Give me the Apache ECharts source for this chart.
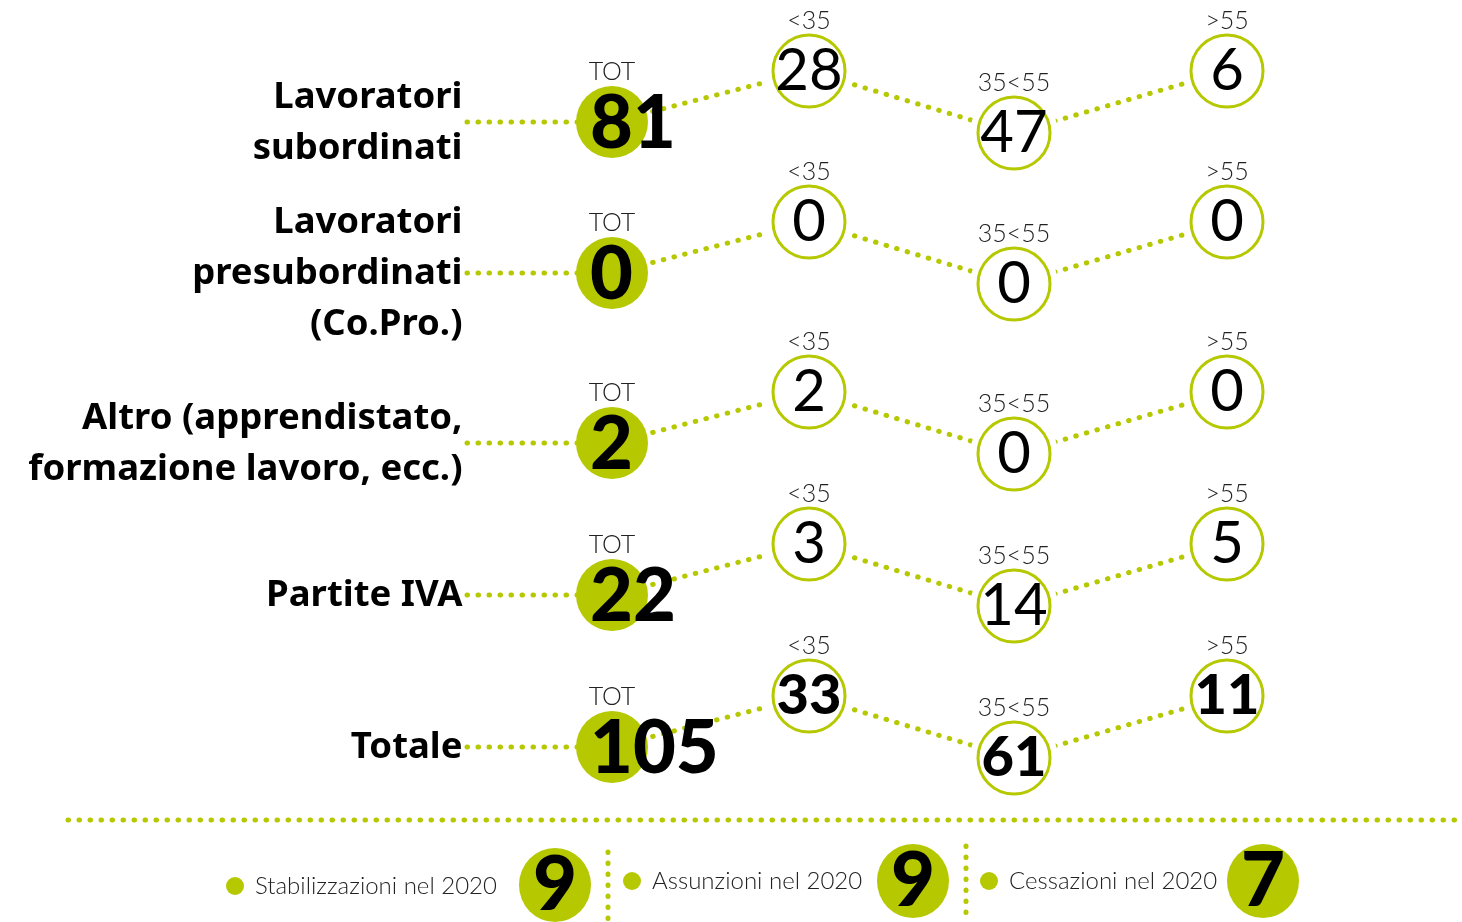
<!DOCTYPE html>
<html>
<head>
<meta charset="utf-8">
<script src="https://cdn.jsdelivr.net/npm/echarts@6/dist/echarts.min.js"></script>
<style>
  html, body { margin: 0; padding: 0; background: #fff; }
  #chart { width: 1462px; height: 922px; }
</style>
</head>
<body>
<div id="chart"></div>
<script>
  // dati
  const rowNames = ['Lavoratori\nsubordinati', 'Lavoratori\npresubordinati\n(Co.Pro.)', 'Altro (apprendistato,\nformazione lavoro, ecc.)', 'Partite IVA', 'Totale']
  const groups = ['TOT', '<35', '35<55', '>55']
  const totValues = [81, 0, 2, 22, 105]
  const under35 = [28, 0, 2, 3, 33]
  const from35to55 = [47, 0, 0, 14, 61]
  const over55 = [6, 0, 0, 5, 11]
  const summaryNames = ['Stabilizzazioni nel 2020', 'Assunzioni nel 2020', 'Cessazioni nel 2020']
  const summaryValues = [9, 9, 7]

  // layout
  const GREEN = '#b5c800'
  const rowY = [122, 273, 443, 595, 747]
  const colX = [612, 809, 1014, 1227]
  const colDy = [0, -51, 11, -51]
  const labelX = 463
  const boldRow = 4
  const summaryDot = [[235, 886], [632, 881], [989, 881]]
  const summaryBig = [[555, 885], [913, 881], [1263, 881]]

  const ageValues = [under35, from35to55, over55]
  const pos = (r, c) => [colX[c], rowY[r] + colDy[c]]
  const dotted = { color: GREEN, width: 5, type: [0.5, 10.5], cap: 'round', opacity: 1 }

  const series = []

  rowNames.forEach((name, r) => {
    series.push({
      type: 'line', z: 1, symbol: 'none', silent: true,
      lineStyle: dotted,
      data: [[labelX + 4, rowY[r]], pos(r, 0), pos(r, 1), pos(r, 2), pos(r, 3)]
    })
  })

  // linee di separazione in basso
  series.push({ type: 'line', z: 1, symbol: 'none', silent: true, lineStyle: dotted, data: [[68, 820], [1462, 820]] })
  series.push({ type: 'line', z: 1, symbol: 'none', silent: true, lineStyle: dotted, data: [[608, 852], [608, 920]] })
  series.push({ type: 'line', z: 1, symbol: 'none', silent: true, lineStyle: dotted, data: [[966, 846], [966, 918]] })

  const agePoints = []
  const tagPoints = []
  rowNames.forEach((name, r) => {
    tagPoints.push({ name: groups[0], value: pos(r, 0) })
    ageValues.forEach((arr, i) => {
      agePoints.push({
        value: pos(r, i + 1).concat(arr[r]),
        label: r === boldRow ? { fontWeight: 900, fontSize: 56 } : {}
      })
      tagPoints.push({ name: groups[i + 1], value: pos(r, i + 1) })
    })
  })

  // alone bianco per staccare le linee dai cerchi
  series.push({
    type: 'scatter', z: 2, silent: true, symbolSize: 88,
    itemStyle: { color: '#fff', opacity: 1 },
    data: agePoints.map(d => d.value.slice(0, 2))
  })

  series.push({
    type: 'scatter', z: 3, silent: true, symbolSize: 72,
    itemStyle: { color: '#fff', borderColor: GREEN, borderWidth: 3, opacity: 1 },
    label: {
      show: true, position: 'inside', formatter: p => p.value[2],
      fontFamily: 'Lato', fontWeight: 400, fontSize: 58, color: '#000', opacity: 1
    },
    data: agePoints
  })

  series.push({
    type: 'scatter', z: 3, silent: true, symbolSize: 72,
    itemStyle: { color: GREEN, opacity: 1 },
    label: {
      show: true, position: [14, 38], align: 'left', verticalAlign: 'middle',
      formatter: p => p.value[2],
      fontFamily: 'Lato', fontWeight: 900, fontSize: 74, color: '#000', opacity: 1
    },
    data: rowNames.map((n, r) => pos(r, 0).concat(totValues[r]))
  })

  series.push({
    type: 'scatter', z: 4, silent: true, symbolSize: 72,
    itemStyle: { color: 'transparent' },
    label: {
      show: true, position: 'top', distance: 2, formatter: '{b}',
      fontFamily: 'Lato', fontWeight: 300, fontSize: 25, color: '#222', opacity: 1
    },
    data: tagPoints
  })

  series.push({
    type: 'scatter', z: 4, silent: true, symbolSize: 1,
    itemStyle: { color: 'transparent' },
    label: {
      show: true, position: 'left', distance: 0, align: 'right', formatter: '{b}',
      fontFamily: 'Noto Sans', fontWeight: 'bold', fontSize: 36.5, lineHeight: 51, color: '#000', opacity: 1
    },
    data: rowNames.map((n, r) => ({ name: n, value: [labelX, rowY[r] + 1] }))
  })

  series.push({
    type: 'scatter', z: 3, silent: true, symbolSize: 18,
    itemStyle: { color: GREEN, opacity: 1 },
    label: {
      show: true, position: 'right', distance: 11, formatter: '{b}',
      fontFamily: 'Lato', fontWeight: 300, fontSize: 24, color: '#222', opacity: 1
    },
    data: summaryNames.map((n, i) => ({ name: n, value: summaryDot[i] }))
  })

  series.push({
    type: 'scatter', z: 3, silent: true, symbolSize: [72, 74],
    itemStyle: { color: GREEN, opacity: 1 },
    label: {
      show: true, position: 'inside', formatter: p => p.value[2],
      fontFamily: 'Lato', fontWeight: 900, fontSize: 76, color: '#000', opacity: 1
    },
    data: summaryValues.map((v, i) => summaryBig[i].concat(v))
  })

  const chart = echarts.init(document.getElementById('chart'))
  chart.setOption({
    animation: false,
    grid: { left: 0, right: 0, top: 0, bottom: 0 },
    xAxis: { type: 'value', min: 0, max: 1462, show: false },
    yAxis: { type: 'value', min: 0, max: 922, inverse: true, show: false },
    series: series
  })
</script>
</body>
</html>
